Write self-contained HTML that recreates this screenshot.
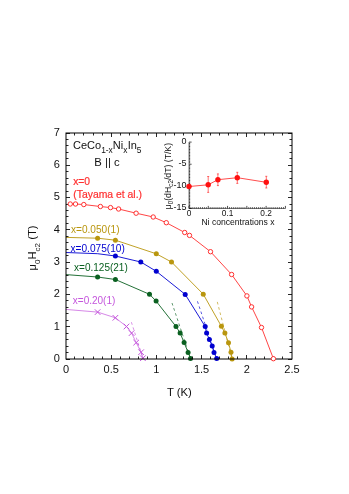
<!DOCTYPE html>
<html><head><meta charset="utf-8"><title>Hc2 vs T</title>
<style>
html,body{margin:0;padding:0;background:#fff;}
body{width:349px;height:494px;position:relative;overflow:hidden;font-family:"Liberation Sans",sans-serif;}
</style></head><body>
<svg width="349" height="494" viewBox="0 0 349 494" style="position:absolute;left:0;top:0;will-change:transform;font-family:'Liberation Sans',sans-serif">
<rect x="0" y="0" width="349" height="494" fill="#fff"/>
<line x1="217.3" y1="301.9" x2="232.0" y2="359" stroke="#b9960e" stroke-width="0.65" stroke-dasharray="2.7,2.7"/>
<line x1="197.45" y1="301.3" x2="216.6" y2="358.7" stroke="#0000d0" stroke-width="0.65" stroke-dasharray="2.7,2.7"/>
<line x1="172.0" y1="303.0" x2="190.5" y2="358.4" stroke="#0a6020" stroke-width="0.65" stroke-dasharray="2.7,2.7"/>
<line x1="131.4" y1="322.2" x2="142.9" y2="358.2" stroke="#c455dc" stroke-width="0.65" stroke-dasharray="2.7,2.7"/>
<polyline fill="none" stroke="#c455dc" stroke-width="0.7"  points="65.8,309.4 97.6,312.1 115.4,317.8 126.5,326.5 131.6,333.1 136.2,342.6 141.1,352.2 142.9,358.2"/>
<path d="M94.8 309.3L100.4 314.9M94.8 314.9L100.4 309.3" stroke="#c455dc" stroke-width="1.0" fill="none"/>
<path d="M112.6 315L118.2 320.6M112.6 320.6L118.2 315" stroke="#c455dc" stroke-width="1.0" fill="none"/>
<path d="M123.7 323.7L129.3 329.3M123.7 329.3L129.3 323.7" stroke="#c455dc" stroke-width="1.0" fill="none"/>
<path d="M128.8 330.3L134.4 335.9M128.8 335.9L134.4 330.3" stroke="#c455dc" stroke-width="1.0" fill="none"/>
<path d="M133.4 339.8L139 345.4M133.4 345.4L139 339.8" stroke="#c455dc" stroke-width="1.0" fill="none"/>
<path d="M138.3 349.4L143.9 355M138.3 355L143.9 349.4" stroke="#c455dc" stroke-width="1.0" fill="none"/>
<path d="M140.1 355.4L145.7 361M140.1 361L145.7 355.4" stroke="#c455dc" stroke-width="1.0" fill="none"/>
<polyline fill="none" stroke="#0a6020" stroke-width="0.9"  points="66,274.6 97.6,277 115.4,279.5 149.5,294.3 156.1,301.1 176,326.5 180.1,333 184.1,342.6 188.1,352.4 190.5,358.4"/>
<circle cx="97.6" cy="277" r="2.5" fill="#0a6020"/>
<circle cx="115.4" cy="279.5" r="2.5" fill="#0a6020"/>
<circle cx="149.5" cy="294.3" r="2.5" fill="#0a6020"/>
<circle cx="156.1" cy="301.1" r="2.5" fill="#0a6020"/>
<circle cx="176" cy="326.5" r="2.5" fill="#0a6020"/>
<circle cx="180.1" cy="333" r="2.5" fill="#0a6020"/>
<circle cx="184.1" cy="342.6" r="2.5" fill="#0a6020"/>
<circle cx="188.1" cy="352.4" r="2.5" fill="#0a6020"/>
<circle cx="190.5" cy="358.4" r="2.5" fill="#0a6020"/>
<polyline fill="none" stroke="#0000d0" stroke-width="0.9"  points="66,252.5 97.6,253.7 115.4,256 140.8,262 156.3,271.3 185.2,294.4 205.2,326.5 206.6,333.1 209.4,339.5 212.2,346.1 214,352.5 216.7,358.6"/>
<circle cx="115.4" cy="256" r="2.5" fill="#0000d0"/>
<circle cx="140.8" cy="262" r="2.5" fill="#0000d0"/>
<circle cx="156.3" cy="271.3" r="2.5" fill="#0000d0"/>
<circle cx="185.2" cy="294.4" r="2.5" fill="#0000d0"/>
<circle cx="205.2" cy="326.5" r="2.5" fill="#0000d0"/>
<circle cx="206.6" cy="333.1" r="2.5" fill="#0000d0"/>
<circle cx="209.4" cy="339.5" r="2.5" fill="#0000d0"/>
<circle cx="212.2" cy="346.1" r="2.5" fill="#0000d0"/>
<circle cx="214" cy="352.5" r="2.5" fill="#0000d0"/>
<circle cx="216.7" cy="358.6" r="2.5" fill="#0000d0"/>
<polyline fill="none" stroke="#b9960e" stroke-width="0.9"  points="66,237.4 97.6,238.2 115.4,240.2 156.3,253.8 171.5,262 203.25,294.2 221.4,326.3 224.9,333.1 228.5,342.8 231,352.3 232.1,358.9"/>
<circle cx="97.6" cy="238.2" r="2.5" fill="#b9960e"/>
<circle cx="115.4" cy="240.2" r="2.5" fill="#b9960e"/>
<circle cx="156.3" cy="253.8" r="2.5" fill="#b9960e"/>
<circle cx="171.5" cy="262" r="2.5" fill="#b9960e"/>
<circle cx="203.25" cy="294.2" r="2.5" fill="#b9960e"/>
<circle cx="221.4" cy="326.3" r="2.5" fill="#b9960e"/>
<circle cx="224.9" cy="333.1" r="2.5" fill="#b9960e"/>
<circle cx="228.5" cy="342.8" r="2.5" fill="#b9960e"/>
<circle cx="231" cy="352.3" r="2.5" fill="#b9960e"/>
<circle cx="232.1" cy="358.9" r="2.5" fill="#b9960e"/>
<rect x="66" y="133" width="226" height="226" fill="none" stroke="#000" stroke-width="1"/>
<path d="M74.5 359v-2.5M74.5 133v2.5M83.5 359v-2.5M83.5 133v2.5M93.5 359v-2.5M93.5 133v2.5M102.5 359v-2.5M102.5 133v2.5M111.5 359v-4M111.5 133v4M120.5 359v-2.5M120.5 133v2.5M129.5 359v-2.5M129.5 133v2.5M138.5 359v-2.5M138.5 133v2.5M147.5 359v-2.5M147.5 133v2.5M156.5 359v-4M156.5 133v4M165.5 359v-2.5M165.5 133v2.5M174.5 359v-2.5M174.5 133v2.5M183.5 359v-2.5M183.5 133v2.5M192.5 359v-2.5M192.5 133v2.5M201.5 359v-4M201.5 133v4M210.5 359v-2.5M210.5 133v2.5M219.5 359v-2.5M219.5 133v2.5M228.5 359v-2.5M228.5 133v2.5M237.5 359v-2.5M237.5 133v2.5M246.5 359v-4M246.5 133v4M255.5 359v-2.5M255.5 133v2.5M264.5 359v-2.5M264.5 133v2.5M273.5 359v-2.5M273.5 133v2.5M282.5 359v-2.5M282.5 133v2.5M66 359.5h4M292 359.5h-4M66 352.5h2.5M292 352.5h-2.5M66 346.5h2.5M292 346.5h-2.5M66 339.5h2.5M292 339.5h-2.5M66 333.5h2.5M292 333.5h-2.5M66 326.5h4M292 326.5h-4M66 320.5h2.5M292 320.5h-2.5M66 313.5h2.5M292 313.5h-2.5M66 307.5h2.5M292 307.5h-2.5M66 300.5h2.5M292 300.5h-2.5M66 294.5h4M292 294.5h-4M66 287.5h2.5M292 287.5h-2.5M66 281.5h2.5M292 281.5h-2.5M66 275.5h2.5M292 275.5h-2.5M66 268.5h2.5M292 268.5h-2.5M66 262.5h4M292 262.5h-4M66 255.5h2.5M292 255.5h-2.5M66 249.5h2.5M292 249.5h-2.5M66 242.5h2.5M292 242.5h-2.5M66 236.5h2.5M292 236.5h-2.5M66 229.5h4M292 229.5h-4M66 223.5h2.5M292 223.5h-2.5M66 216.5h2.5M292 216.5h-2.5M66 210.5h2.5M292 210.5h-2.5M66 204.5h2.5M292 204.5h-2.5M66 197.5h4M292 197.5h-4M66 191.5h2.5M292 191.5h-2.5M66 184.5h2.5M292 184.5h-2.5M66 178.5h2.5M292 178.5h-2.5M66 171.5h2.5M292 171.5h-2.5M66 165.5h4M292 165.5h-4M66 158.5h2.5M292 158.5h-2.5M66 152.5h2.5M292 152.5h-2.5M66 145.5h2.5M292 145.5h-2.5M66 139.5h2.5M292 139.5h-2.5M66 133.5h4M292 133.5h-4" stroke="#000" stroke-width="0.85" fill="none"/>
<polyline fill="none" stroke="#ff3030" stroke-width="0.9"  points="70.25,204 75.5,204 83.8,204.55 100.4,206.5 110.5,207.6 118.6,209 136.1,213.2 153.2,217 166.3,222.7 184.7,232.5 189.5,235.4 210.5,251.7 231.6,274.5 246.9,295.9 251.6,306.9 261.5,327.5 273.4,358.7"/>
<circle cx="70.25" cy="204" r="2.2" fill="#fff" stroke="#ff3030" stroke-width="1.0"/>
<circle cx="75.5" cy="204" r="2.2" fill="#fff" stroke="#ff3030" stroke-width="1.0"/>
<circle cx="83.8" cy="204.55" r="2.2" fill="#fff" stroke="#ff3030" stroke-width="1.0"/>
<circle cx="100.4" cy="206.5" r="2.2" fill="#fff" stroke="#ff3030" stroke-width="1.0"/>
<circle cx="110.5" cy="207.6" r="2.2" fill="#fff" stroke="#ff3030" stroke-width="1.0"/>
<circle cx="118.6" cy="209" r="2.2" fill="#fff" stroke="#ff3030" stroke-width="1.0"/>
<circle cx="136.1" cy="213.2" r="2.2" fill="#fff" stroke="#ff3030" stroke-width="1.0"/>
<circle cx="153.2" cy="217" r="2.2" fill="#fff" stroke="#ff3030" stroke-width="1.0"/>
<circle cx="166.3" cy="222.7" r="2.2" fill="#fff" stroke="#ff3030" stroke-width="1.0"/>
<circle cx="184.7" cy="232.5" r="2.2" fill="#fff" stroke="#ff3030" stroke-width="1.0"/>
<circle cx="189.5" cy="235.4" r="2.2" fill="#fff" stroke="#ff3030" stroke-width="1.0"/>
<circle cx="210.5" cy="251.7" r="2.2" fill="#fff" stroke="#ff3030" stroke-width="1.0"/>
<circle cx="231.6" cy="274.5" r="2.2" fill="#fff" stroke="#ff3030" stroke-width="1.0"/>
<circle cx="246.9" cy="295.9" r="2.2" fill="#fff" stroke="#ff3030" stroke-width="1.0"/>
<circle cx="251.6" cy="306.9" r="2.2" fill="#fff" stroke="#ff3030" stroke-width="1.0"/>
<circle cx="261.5" cy="327.5" r="2.2" fill="#fff" stroke="#ff3030" stroke-width="1.0"/>
<circle cx="273.4" cy="358.7" r="2.2" fill="#fff" stroke="#ff3030" stroke-width="1.0"/>
<text x="59.9" y="361.8" font-size="11" text-anchor="end" fill="#111">0</text>
<text x="59.9" y="329.51" font-size="11" text-anchor="end" fill="#111">1</text>
<text x="59.9" y="297.23" font-size="11" text-anchor="end" fill="#111">2</text>
<text x="59.9" y="264.94" font-size="11" text-anchor="end" fill="#111">3</text>
<text x="59.9" y="232.66" font-size="11" text-anchor="end" fill="#111">4</text>
<text x="59.9" y="200.37" font-size="11" text-anchor="end" fill="#111">5</text>
<text x="59.9" y="168.09" font-size="11" text-anchor="end" fill="#111">6</text>
<text x="59.9" y="135.8" font-size="11" text-anchor="end" fill="#111">7</text>
<text x="66" y="373.2" font-size="11" text-anchor="middle" fill="#111">0</text>
<text x="111.2" y="373.2" font-size="11" text-anchor="middle" fill="#111">0.5</text>
<text x="156.4" y="373.2" font-size="11" text-anchor="middle" fill="#111">1</text>
<text x="201.6" y="373.2" font-size="11" text-anchor="middle" fill="#111">1.5</text>
<text x="246.8" y="373.2" font-size="11" text-anchor="middle" fill="#111">2</text>
<text x="292" y="373.2" font-size="11" text-anchor="middle" fill="#111">2.5</text>
<text x="179.4" y="395.7" font-size="11.3" text-anchor="middle" fill="#111">T (K)</text>
<text transform="translate(36.3,270.4) rotate(-90)" font-size="11.2" fill="#111">μ<tspan font-size="8" dy="4">0</tspan><tspan dy="-4">H</tspan><tspan font-size="8" dy="4">c2</tspan><tspan dy="-4"> (T)</tspan></text>
<text x="73.0" y="148.8" font-size="11" fill="#111">CeCo<tspan font-size="8.4" dy="4.2">1-x</tspan><tspan dy="-4.2">Ni</tspan><tspan font-size="8.4" dy="4.2">x</tspan><tspan dy="-4.2" dx="0.3">In</tspan><tspan font-size="8.4" dy="4.2">5</tspan></text>
<text x="94.3" y="166.1" font-size="11.3" fill="#111">B || c</text>
<text x="73.2" y="185.2" font-size="10.3" fill="#ff3030" stroke="#ff3030" stroke-width="0.2">x=0</text>
<text x="73.3" y="197.6" font-size="10.4" fill="#ff3030" stroke="#ff3030" stroke-width="0.2">(Tayama et al.)</text>
<text x="71.0" y="232.6" font-size="10.1" fill="#b9960e">x=0.050(1)</text>
<text x="70.5" y="252.2" font-size="10.15" fill="#0000d0">x=0.075(10)</text>
<text x="74.1" y="270.7" font-size="10" fill="#0a6020">x=0.125(21)</text>
<text x="72.8" y="303.8" font-size="10" fill="#c455dc">x=0.20(1)</text>
<path d="M189 142.1V208.5H285.4" stroke="#555" stroke-width="0.8" fill="none"/>
<path d="M189 208.5v-2.6M190.93 208.5v-1.3M192.86 208.5v-1.3M194.78 208.5v-1.3M196.71 208.5v-1.3M198.64 208.5v-1.3M200.57 208.5v-1.3M202.5 208.5v-1.3M204.42 208.5v-1.3M206.35 208.5v-1.3M208.28 208.5v-2.6M210.21 208.5v-1.3M212.14 208.5v-1.3M214.06 208.5v-1.3M215.99 208.5v-1.3M217.92 208.5v-1.3M219.85 208.5v-1.3M221.78 208.5v-1.3M223.7 208.5v-1.3M225.63 208.5v-1.3M227.56 208.5v-2.6M229.49 208.5v-1.3M231.42 208.5v-1.3M233.34 208.5v-1.3M235.27 208.5v-1.3M237.2 208.5v-1.3M239.13 208.5v-1.3M241.06 208.5v-1.3M242.98 208.5v-1.3M244.91 208.5v-1.3M246.84 208.5v-2.6M248.77 208.5v-1.3M250.7 208.5v-1.3M252.62 208.5v-1.3M254.55 208.5v-1.3M256.48 208.5v-1.3M258.41 208.5v-1.3M260.34 208.5v-1.3M262.26 208.5v-1.3M264.19 208.5v-1.3M266.12 208.5v-2.6M268.05 208.5v-1.3M269.98 208.5v-1.3M271.9 208.5v-1.3M273.83 208.5v-1.3M275.76 208.5v-1.3M277.69 208.5v-1.3M279.62 208.5v-1.3M281.54 208.5v-1.3M283.47 208.5v-1.3M285.4 208.5v-2.6M189 142.1h2.6M189 143.58h1.2M189 145.05h1.2M189 146.53h1.2M189 148h1.2M189 149.48h1.2M189 150.95h1.2M189 152.43h1.2M189 153.9h1.2M189 155.38h1.2M189 156.86h1.2M189 158.33h1.2M189 159.81h1.2M189 161.28h1.2M189 162.76h1.2M189 164.23h2.6M189 165.71h1.2M189 167.18h1.2M189 168.66h1.2M189 170.14h1.2M189 171.61h1.2M189 173.09h1.2M189 174.56h1.2M189 176.04h1.2M189 177.51h1.2M189 178.99h1.2M189 180.46h1.2M189 181.94h1.2M189 183.42h1.2M189 184.89h1.2M189 186.37h2.6M189 187.84h1.2M189 189.32h1.2M189 190.79h1.2M189 192.27h1.2M189 193.74h1.2M189 195.22h1.2M189 196.7h1.2M189 198.17h1.2M189 199.65h1.2M189 201.12h1.2M189 202.6h1.2M189 204.07h1.2M189 205.55h1.2M189 207.02h1.2M189 208.5h2.6" stroke="#000" stroke-width="0.7" fill="none"/>
<text x="186.6" y="144" font-size="9" text-anchor="end" fill="#111">0</text>
<text x="186.6" y="166.13" font-size="9" text-anchor="end" fill="#111">-5</text>
<text x="186.6" y="188.27" font-size="9" text-anchor="end" fill="#111">-10</text>
<text x="186.6" y="210.4" font-size="9" text-anchor="end" fill="#111">-15</text>
<text x="189" y="216.0" font-size="8.3" text-anchor="middle" fill="#111">0</text>
<text x="227.56" y="216.0" font-size="8.3" text-anchor="middle" fill="#111">0.1</text>
<text x="266.12" y="216.0" font-size="8.3" text-anchor="middle" fill="#111">0.2</text>
<text x="201.4" y="224.6" font-size="8.6" fill="#111">Ni concentrations x</text>
<text transform="translate(170.5,209.3) rotate(-90)" font-size="8.7" fill="#111">μ<tspan font-size="6.3" dy="2">0</tspan><tspan dy="-2">(dH</tspan><tspan font-size="6.3" dy="2">c2</tspan><tspan dy="-2">/dT) (T/K)</tspan></text>
<polyline fill="none" stroke="#ff2020" stroke-width="0.8"  points="189,186.5 208.2,184.8 217.9,179.7 237.3,177.7 266.3,182.3"/>
<circle cx="189" cy="186.5" r="2.7" fill="#ff1010"/>
<path d="M208.2 176.5V192.4M207.2 176.5h2M207.2 192.4h2" stroke="#ff2020" stroke-width="0.65" fill="none"/>
<circle cx="208.2" cy="184.8" r="2.7" fill="#ff1010"/>
<path d="M217.9 173.9V185.6M216.9 173.9h2M216.9 185.6h2" stroke="#ff2020" stroke-width="0.65" fill="none"/>
<circle cx="217.9" cy="179.7" r="2.7" fill="#ff1010"/>
<path d="M237.3 172.3V183.4M236.3 172.3h2M236.3 183.4h2" stroke="#ff2020" stroke-width="0.65" fill="none"/>
<circle cx="237.3" cy="177.7" r="2.7" fill="#ff1010"/>
<path d="M266.3 176.3V188M265.3 176.3h2M265.3 188h2" stroke="#ff2020" stroke-width="0.65" fill="none"/>
<circle cx="266.3" cy="182.3" r="2.7" fill="#ff1010"/>
</svg>
</body></html>
